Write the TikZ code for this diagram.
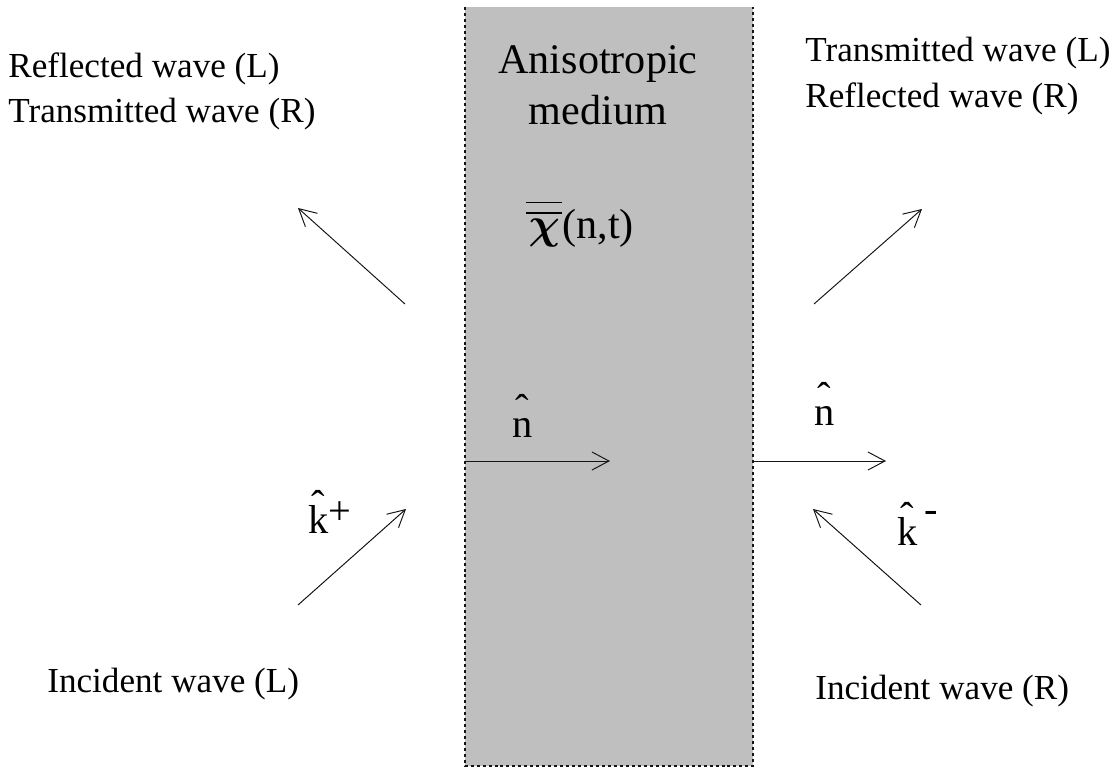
\documentclass[tikz,border=0pt]{standalone}
\usepackage{fontspec}
\setmainfont{Liberation Serif}
\usetikzlibrary{arrows.meta}
\definecolor{slabgray}{RGB}{191,191,191}
\definecolor{lineblack}{RGB}{20,20,20}
\newcommand{\hatover}[2][0.36em]{\ooalign{#2\cr\hidewidth\raisebox{#1}{ˆ}\hidewidth\cr}}
\newcommand{\dbar}[1]{\vbox{\hrule width 0.72cm height 0.7pt\vskip 0.19cm\hrule width 0.72cm height 0.7pt\vskip 0.1cm\hbox to 0.72cm{\hss#1\hss}}}

\begin{document}
\begin{tikzpicture}[x=0.02cm, y=-0.02cm, font=\fontsize{20}{24}\selectfont,
  wave/.style={-{Straight Barb[length=3.4mm,width=3.6mm]}, draw=lineblack, line width=0.55pt},
  bigtext/.style={font=\fontsize{24}{29}\selectfont, align=center, inner sep=0pt},
  symb/.style={font=\fontsize{23}{28}\selectfont, anchor=base west, inner sep=0pt}]
\useasboundingbox (0,0) rectangle (1117,774);

% the slab
\fill[slabgray] (465,7) rectangle (753,766);
\draw[draw=lineblack, dash pattern=on 1.7pt off 1.7pt, line width=0.8pt] (465,7) -- (465,766) -- (753,766) -- (753,7);
\node[bigtext] (medium) at (598,85) {Anisotropic\\medium};
\node[bigtext, anchor=base west] (chi) at (526,238) {\dbar{\fontsize{38}{42}\selectfont\boldmath$\chi$}(n,t)};

% labels
\node[anchor=west, inner sep=0pt] (reflL) at (8,69) {Reflected wave (L)};
\node[anchor=west, inner sep=0pt] (transR) at (8,114) {Transmitted wave (R)};
\node[anchor=west, inner sep=0pt] (transL) at (805,53) {Transmitted wave (L)};
\node[anchor=west, inner sep=0pt] (reflR) at (805,99) {Reflected wave (R)};
\node[anchor=west, inner sep=0pt] (incL) at (47,684) {Incident wave (L)};
\node[anchor=west, inner sep=0pt] (incR) at (815,691) {Incident wave (R)};

\node[symb] (nin) at (512,437) {\hatover{n}};
\node[symb] (nout) at (814,425) {\hatover{n}};
\node[symb] (kplus) at (308,533) {\hatover{k}\raisebox{0.2em}{+}};
\node[symb] (kminus) at (897,545) {\hatover{k}\,\raisebox{0.55em}{-}};

% arrow ends
\coordinate (ulTail) at (405,304);
\coordinate (ulHead) at (298,208);
\coordinate (urTail) at (814,304);
\coordinate (urHead) at (922,209);
\coordinate (llTail) at (298,605);
\coordinate (llHead) at (406,509);
\coordinate (lrTail) at (921,605);
\coordinate (lrHead) at (813,509);
\coordinate (ninTail) at (465,461);
\coordinate (ninHead) at (610,461);
\coordinate (noutTail) at (753,461);
\coordinate (noutHead) at (886,461);

\draw[wave] (ulTail) -- (ulHead);
\draw[wave] (urTail) -- (urHead);
\draw[wave] (llTail) -- (llHead);
\draw[wave] (lrTail) -- (lrHead);
\draw[wave] (ninTail) -- (ninHead);
\draw[wave] (noutTail) -- (noutHead);
\end{tikzpicture}
\end{document}
